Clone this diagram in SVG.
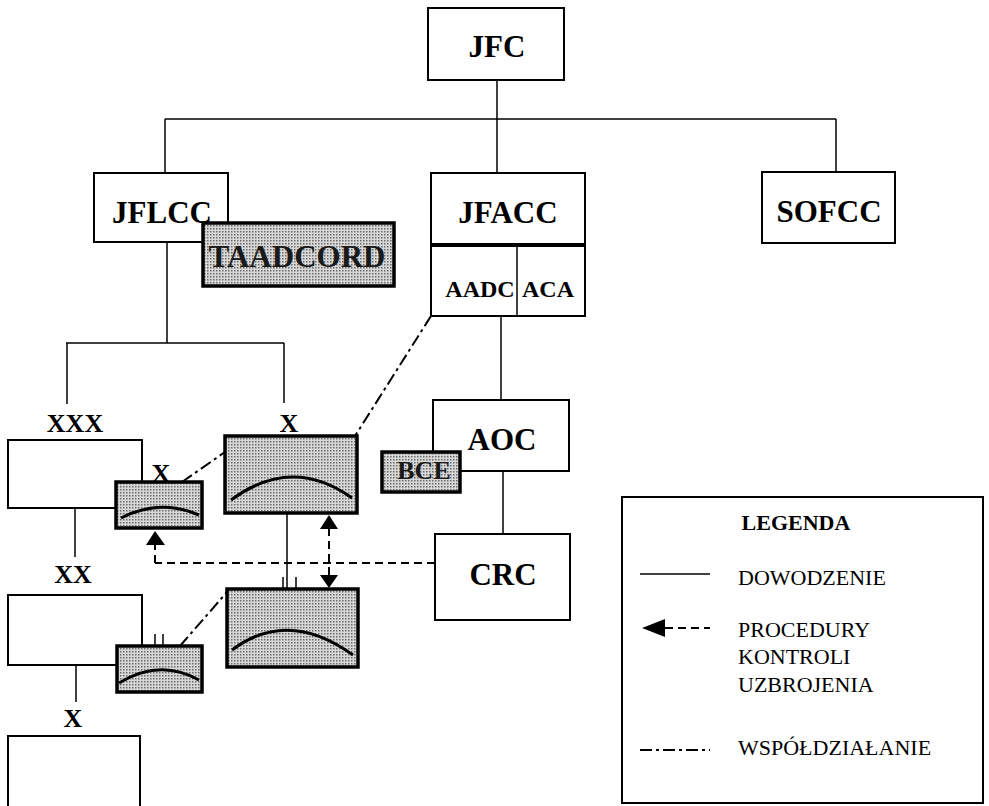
<svg xmlns="http://www.w3.org/2000/svg" width="989" height="806" viewBox="0 0 989 806">
<defs>
<pattern id="dots" width="3" height="3" patternUnits="userSpaceOnUse">
<rect width="3" height="3" fill="#d8d8d8"/>
<rect width="1.5" height="1.5" fill="#6a6a6a"/>
</pattern>
<style>
.box{fill:#fff;stroke:#000;stroke-width:2}
.gbox{fill:url(#dots);stroke:#000;stroke-width:3.5}
.lbl{font-family:"Liberation Serif","Times New Roman",serif;font-weight:bold;font-size:31px;text-anchor:middle;fill:#000}
.sm{font-family:"Liberation Serif","Times New Roman",serif;font-weight:bold;font-size:24px;text-anchor:middle;fill:#000}
.rk{font-family:"Liberation Serif","Times New Roman",serif;font-weight:bold;font-size:26px;text-anchor:middle;fill:#000}
.lg{font-family:"Liberation Serif","Times New Roman",serif;font-size:22px;fill:#000}
.cmd{stroke:#000;stroke-width:1.5;fill:none}
.dash{stroke:#000;stroke-width:2;fill:none;stroke-dasharray:8 5}
.dd{stroke:#000;stroke-width:2;fill:none;stroke-dasharray:12 4 3 4}
.arc{stroke:#000;stroke-width:3;fill:none}
.tri{fill:#000}
</style>
</defs>
<g id="connectors">
<line class="cmd" x1="497" y1="80" x2="497" y2="119"/>
<line class="cmd" x1="165" y1="119" x2="836" y2="119"/>
<line class="cmd" x1="165" y1="119" x2="165" y2="173"/>
<line class="cmd" x1="497" y1="119" x2="497" y2="173"/>
<line class="cmd" x1="836" y1="119" x2="836" y2="172"/>
<line class="cmd" x1="167" y1="242" x2="167" y2="343"/>
<line class="cmd" x1="66" y1="343" x2="284" y2="343"/>
<line class="cmd" x1="67" y1="343" x2="67" y2="404"/>
<line class="cmd" x1="284" y1="343" x2="284" y2="403"/>
<line class="cmd" x1="75" y1="508" x2="75" y2="557"/>
<line class="cmd" x1="76" y1="665" x2="76" y2="702"/>
<line class="cmd" x1="501" y1="316" x2="501" y2="400"/>
<line class="cmd" x1="503" y1="471" x2="503" y2="534"/>
<line class="cmd" x1="433" y1="400" x2="433" y2="452"/>
<line class="cmd" x1="287" y1="513" x2="287" y2="589"/>
<line class="cmd" x1="283" y1="577" x2="283" y2="590"/>
<line class="cmd" x1="296" y1="577" x2="296" y2="590"/>
<line class="cmd" x1="155" y1="634" x2="155" y2="646"/>
<line class="cmd" x1="163" y1="634" x2="163" y2="646"/>
<line class="dash" x1="435" y1="563" x2="155" y2="563"/>
<line class="dash" x1="155" y1="563" x2="155" y2="545"/>
<path class="tri" d="M155,531 L146,545 L165,545 z"/>
<line class="dash" x1="329" y1="528" x2="329" y2="575"/>
<path class="tri" d="M329,515 L320,529 L338,529 z"/>
<path class="tri" d="M329,588 L320,575 L338,575 z"/>
<line class="dd" x1="431" y1="316" x2="355" y2="436"/>
<line class="dd" x1="182" y1="482" x2="225" y2="452"/>
<line class="dd" x1="180" y1="646" x2="227" y2="592"/>
</g>
<g id="JFC"><rect class="box" x="428" y="8" width="136" height="72"/><text class="lbl" x="497" y="57">JFC</text></g>
<g id="JFLCC"><rect class="box" x="94" y="173" width="134" height="69"/><text class="lbl" x="162" y="223">JFLCC</text></g>
<g id="TAADCORD"><rect class="gbox" x="203" y="223" width="191" height="63"/><text class="lbl" x="297" y="267" style="fill:#1a1a1a">TAADCORD</text></g>
<g id="JFACC"><rect class="box" x="431" y="173" width="154" height="143"/><line x1="431" y1="245" x2="585" y2="245" stroke="#000" stroke-width="4"/><line x1="517" y1="245" x2="517" y2="316" stroke="#000" stroke-width="1.5"/><text class="lbl" x="508" y="223">JFACC</text><text class="sm" x="480" y="297">AADC</text><text class="sm" x="548" y="297">ACA</text></g>
<g id="SOFCC"><rect class="box" x="762" y="172" width="133" height="71"/><text class="lbl" x="829" y="222">SOFCC</text></g>
<g id="AOC"><rect class="box" x="433" y="400" width="136" height="71"/><text class="lbl" x="502" y="450">AOC</text></g>
<g id="BCE"><rect class="gbox" x="382" y="452" width="78" height="40"/><text class="rk" x="424" y="479" style="fill:#1a1a1a">BCE</text></g>
<g id="CRC"><rect class="box" x="435" y="534" width="135" height="86"/><text class="lbl" x="503" y="585">CRC</text></g>
<g id="XXX"><text class="rk" x="75" y="432">XXX</text><rect class="box" x="8" y="440" width="134" height="68"/></g>
<g id="X1"><text class="rk" x="161" y="482">X</text><rect class="gbox" x="116" y="482" width="86" height="46"/><path class="arc" d="M121,518 Q160,498 199,515"/></g>
<g id="X2"><text class="rk" x="289" y="432">X</text><rect class="gbox" x="225" y="436" width="132" height="77"/><path class="arc" d="M231,500 Q292,455 352,498"/></g>
<g id="XX"><text class="rk" x="73" y="583">XX</text><rect class="box" x="8" y="595" width="134" height="70"/></g>
<g id="X3"><rect class="gbox" x="117" y="646" width="85" height="46"/><path class="arc" d="M119,683 Q160,658 199,680"/></g>
<g id="X4"><rect class="gbox" x="227" y="589" width="131" height="78"/><path class="arc" d="M232,650 Q288,608 353,655"/></g>
<g id="X5"><text class="rk" x="73" y="727">X</text><rect class="box" x="8" y="736" width="132" height="75"/></g>
<g id="legend">
<rect class="box" x="622" y="497" width="361" height="306"/>
<text class="lg" x="796" y="530" font-weight="bold" text-anchor="middle">LEGENDA</text>
<line class="cmd" x1="640" y1="574" x2="710" y2="574"/>
<text class="lg" x="738" y="585">DOWODZENIE</text>
<line class="dash" x1="665" y1="628" x2="710" y2="628"/>
<path class="tri" d="M642,628 L665,619 L665,637 z"/>
<text class="lg" x="738" y="637">PROCEDURY</text>
<text class="lg" x="738" y="664">KONTROLI</text>
<text class="lg" x="738" y="692">UZBROJENIA</text>
<line class="dd" x1="640" y1="750" x2="710" y2="750"/>
<text class="lg" x="738" y="755">WSPÓŁDZIAŁANIE</text>
</g>
</svg>
